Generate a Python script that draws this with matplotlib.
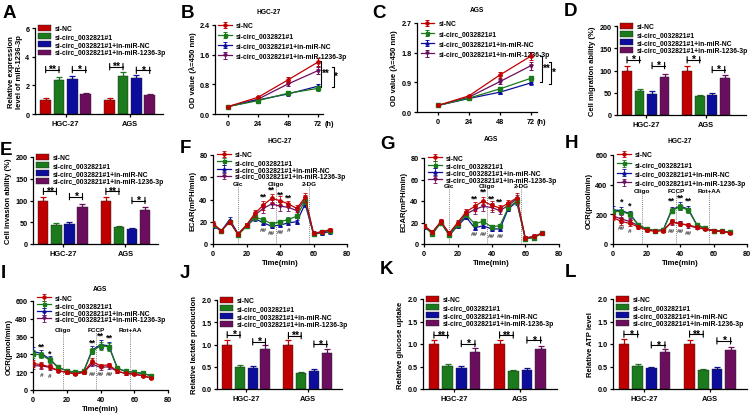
import numpy as np
import matplotlib
matplotlib.use('Agg')
import matplotlib.pyplot as plt

plt.rcParams['font.family'] = ['Liberation Sans', 'DejaVu Sans']
plt.rcParams['font.weight'] = 'bold'
plt.rcParams['axes.labelweight'] = 'bold'
plt.rcParams['axes.titleweight'] = 'bold'

# ---------------- data ----------------
series = ['si-NC', 'si-circ_0032821#1', 'si-circ_0032821#1+in-miR-NC',
          'si-circ_0032821#1+in-miR-1236-3p']
colors = ['#C00000', '#1B7A1B', '#0D0D9C', '#6C0E5E']
markers = ['o', 's', '^', 'v']
cell_lines = ['HGC-27', 'AGS']

# bar panels: [group][series]
A_mean = [[1.00, 2.35, 2.45, 1.38], [1.00, 2.65, 2.50, 1.30]]
A_err = [[0.10, 0.22, 0.20, 0.10], [0.12, 0.28, 0.25, 0.10]]
A_sig = [[('**', 3.1), ('*', 3.1)], [('**', 3.3), ('*', 3.05)]]

D_mean = [[100, 53, 48, 86], [100, 42, 46, 84]]
D_err = [[10, 5, 5, 7], [10, 3, 3, 7]]
D_sig = [[('*', 124), ('*', 111)], [('*', 124), ('*', 102)]]

E_mean = [[100, 44, 47, 85], [100, 38, 35, 78]]
E_err = [[9, 4, 4, 7], [8, 3, 2, 7]]
E_sig = [[('**', 121), ('*', 109)], [('**', 121), ('*', 100)]]

J_mean = [[1.00, 0.50, 0.47, 0.90], [1.00, 0.37, 0.41, 0.82]]
J_err = [[0.10, 0.05, 0.04, 0.08], [0.10, 0.02, 0.03, 0.07]]
J_sig = [[('*', 1.22), ('*', 1.06)], [('**', 1.20), ('*', 1.01)]]

K_mean = [[1.00, 0.51, 0.47, 0.83], [1.00, 0.40, 0.43, 0.88]]
K_err = [[0.10, 0.04, 0.04, 0.08], [0.09, 0.03, 0.04, 0.07]]
K_sig = [[('**', 1.20), ('*', 1.01)], [('**', 1.20), ('*', 1.09)]]

L_mean = [[1.00, 0.51, 0.47, 0.82], [1.00, 0.42, 0.45, 0.87]]
L_err = [[0.12, 0.05, 0.03, 0.08], [0.10, 0.03, 0.03, 0.07]]
L_sig = [[('*', 1.22), ('*', 0.98)], [('**', 1.22), ('*', 1.07)]]

# OD curves
od_time = [0, 24, 48, 72]
B_mean = [[0.20, 0.45, 0.92, 1.40], [0.20, 0.36, 0.56, 0.69],
          [0.20, 0.38, 0.54, 0.75], [0.20, 0.40, 0.81, 1.17]]
B_err = [[0.02, 0.03, 0.08, 0.10], [0.02, 0.03, 0.05, 0.06],
         [0.02, 0.03, 0.04, 0.05], [0.02, 0.03, 0.06, 0.10]]
B_br = [('**', 74.5, 1.44, 0.72), ('*', 84.5, 1.27, 0.72)]

C_mean = [[0.20, 0.49, 1.12, 1.69], [0.20, 0.42, 0.70, 1.02],
          [0.20, 0.41, 0.60, 0.88], [0.20, 0.45, 0.92, 1.40]]
C_err = [[0.02, 0.03, 0.10, 0.12], [0.02, 0.03, 0.05, 0.08],
         [0.02, 0.03, 0.04, 0.04], [0.02, 0.03, 0.07, 0.12]]
C_br = [('**', 81, 1.69, 0.90), ('*', 88, 1.52, 0.85)]

# Seahorse curves
tm = [0, 5, 10, 15, 20, 25, 30, 35, 40, 45, 50, 55, 60, 65, 70]
F_y = [[18.5, 12, 20, 9, 17, 27.5, 35, 41, 39, 36, 32, 42, 9.5, 11, 13],
       [17, 12, 20, 8, 16, 24, 22, 18, 20, 22, 25, 39, 9, 11, 12],
       [16, 12, 22, 9, 16, 23, 19, 16, 17, 19, 20, 36, 9, 10, 11],
       [17, 12, 20, 9, 17, 26, 32, 36, 34, 33, 30, 40, 9.5, 11, 12]]
F_e = [[2, 1.5, 2, 1.5, 2, 3, 4, 4, 4, 3, 3, 4, 1.5, 1.5, 1.5],
       [2, 1.5, 2, 1.5, 2, 2, 2, 2, 2, 2, 2, 3, 1.5, 1.5, 1.5],
       [2, 1.5, 2, 1.5, 2, 2, 2, 2, 2, 2, 2, 3, 1.5, 1.5, 1.5],
       [2, 1.5, 2, 1.5, 2, 3, 4, 4, 4, 3, 3, 4, 1.5, 1.5, 1.5]]
F_up = [(30, 43, '**'), (35, 49, '**'), (40, 45, '**'), (45, 42, '**')]
F_dn = [(30, 13, '##'), (35, 10, '##'), (40, 11, '##'), (45, 13, '#')]

G_y = [[17, 11, 21, 10, 20, 30, 35, 40, 36, 33.5, 38, 43, 5.5, 7, 10],
       [17, 9, 20, 8, 18, 27, 19, 21, 16, 17, 34, 40, 5, 6, 10],
       [16, 10, 20, 8, 17, 25, 15, 17, 14, 14, 33, 39, 5, 6, 10],
       [17, 11, 20, 10, 19, 28, 32, 35, 34, 31, 36, 42, 5.5, 7, 10]]
G_e = [[2, 1.5, 2, 1.5, 2, 3, 4, 4, 4, 3, 3, 4, 1.5, 1.5, 1.5],
       [2, 1.5, 2, 1.5, 2, 2, 2, 2, 2, 2, 2, 3, 1.5, 1.5, 1.5],
       [2, 1.5, 2, 1.5, 2, 2, 2, 2, 2, 2, 2, 3, 1.5, 1.5, 1.5],
       [2, 1.5, 2, 1.5, 2, 3, 4, 4, 4, 3, 3, 4, 1.5, 1.5, 1.5]]
G_up = [(30, 43, '**'), (35, 49, '**'), (40, 43, '**'), (45, 40, '**')]
G_dn = [(30, 10, '##'), (35, 10, '##'), (40, 8, '##'), (45, 8, '##')]

H_y = [[179, 152, 139, 116, 94, 85, 90, 152, 134, 130, 112, 101, 90, 85, 74],
       [219, 219, 201, 130, 101, 90, 94, 224, 251, 228, 130, 105, 90, 85, 78],
       [230, 225, 205, 130, 100, 90, 95, 230, 255, 235, 130, 105, 90, 85, 80],
       [190, 168, 152, 125, 100, 90, 92, 145, 140, 123, 110, 100, 90, 85, 78]]
H_e = [[20, 25, 20, 12, 10, 8, 8, 15, 12, 12, 10, 8, 8, 8, 8],
       [20, 20, 18, 12, 10, 8, 8, 18, 20, 18, 10, 8, 8, 8, 8],
       [25, 25, 18, 12, 10, 8, 8, 20, 25, 20, 10, 8, 8, 8, 8],
       [20, 25, 20, 12, 10, 8, 8, 15, 12, 12, 10, 8, 8, 8, 8]]
H_up = [(5, 287, '*'), (10, 265, '*'), (35, 295, '**'), (40, 315, '**'), (45, 298, '**')]
H_dn = [(5, 112, '##'), (10, 88, '#'), (35, 92, '##'), (40, 92, '##'), (45, 78, '##')]

I_y = [[179, 170, 157, 130, 119, 107, 119, 193, 163, 170, 125, 112, 107, 96, 81],
       [242, 237, 201, 152, 130, 119, 125, 260, 298, 291, 148, 125, 119, 112, 96],
       [260, 246, 208, 152, 130, 119, 125, 269, 305, 298, 146, 125, 119, 112, 96],
       [163, 163, 152, 130, 119, 112, 119, 175, 152, 157, 125, 112, 107, 96, 81]]
I_e = [[25, 20, 15, 12, 10, 8, 8, 20, 15, 15, 10, 8, 8, 8, 8],
       [25, 20, 20, 12, 10, 8, 8, 20, 25, 25, 10, 8, 8, 8, 8],
       [30, 25, 20, 12, 10, 8, 8, 25, 30, 25, 10, 8, 8, 8, 8],
       [20, 20, 15, 12, 10, 8, 8, 15, 15, 15, 10, 8, 8, 8, 8]]
I_up = [(5, 295, '**'), (10, 252, '*'), (35, 320, '**'), (40, 370, '**'), (45, 354, '**')]
I_dn = [(5, 105, '#'), (10, 100, '#'), (35, 108, '##'), (40, 108, '##'), (45, 110, '##')]

# ---------------- figure ----------------
W, H = 753, 414
fig = plt.figure(figsize=(W / 100, H / 100), dpi=100)
TICK = 5.2
LEG = 4.9
LAB = 5.5


def add_ax(l, t, r, b):
    ax = fig.add_axes([l / W, 1 - b / H, (r - l) / W, (b - t) / H])
    for s in ('top', 'right'):
        ax.spines[s].set_visible(False)
    for s in ('left', 'bottom'):
        ax.spines[s].set_linewidth(0.9)
    ax.tick_params(labelsize=TICK, length=2.5, width=0.9, pad=1.5)
    return ax


def bold_ticks(ax):
    for lab in ax.get_xticklabels() + ax.get_yticklabels():
        lab.set_fontweight('bold')


def bar_panel(ax, means, errs, sigs, ylim, yticks, ylabel, xmax=9.0):
    offs = [0.0, 4.8]
    for g in range(2):
        for s in range(4):
            x = offs[g] + s
            ax.bar(x, means[g][s], width=0.78, color=colors[s], edgecolor='#222222',
                   linewidth=0.3, label=series[s] if g == 0 else None, zorder=2)
            ax.errorbar(x, means[g][s], yerr=[[0], [errs[g][s]]], color=colors[s],
                        capsize=2.2, elinewidth=0.9, capthick=0.9, zorder=1)
        for k, (txt, yv) in enumerate(sigs[g]):
            x1, x2 = offs[g] + 2 * k, offs[g] + 2 * k + 1
            ax.plot([x1, x2], [yv, yv], color='k', lw=0.8)
            for xx in (x1, x2):
                for d in (2.3, -2.3):
                    ax.annotate('', xy=(xx, yv), xytext=(0, d), textcoords='offset points',
                                arrowprops=dict(arrowstyle='-', lw=0.8, color='k',
                                                shrinkA=0, shrinkB=0))
            ax.annotate(txt, ((x1 + x2) / 2, yv), xytext=(0, -3.2), textcoords='offset points',
                        ha='center', va='bottom', fontsize=7.5, fontweight='bold')
    ax.set_xlim(-0.8, xmax)
    ax.set_ylim(*ylim)
    ax.set_yticks(yticks)
    ax.set_xticks([offs[0] + 1.5, offs[1] + 1.5])
    ax.set_xticklabels(cell_lines, fontsize=TICK + 0.2)
    ax.set_ylabel(ylabel, fontsize=LAB, labelpad=2)
    ax.legend(loc='upper left', bbox_to_anchor=(0.02, 1.03), frameon=False, fontsize=LEG,
              handlelength=2.0, handleheight=0.8, handletextpad=0.5, labelspacing=0.15,
              borderaxespad=0, borderpad=0)
    bold_ticks(ax)


def od_panel(ax, means, errs, brs, ylim, yticks, ylabels, title, xlim):
    for i in range(4):
        ax.errorbar(od_time, means[i], yerr=errs[i], color=colors[i], marker=markers[i],
                    ms=2.4, lw=0.9, elinewidth=0.7, capsize=1.5, capthick=0.7,
                    label=series[i], zorder=5 - i)
    ax.set_xlim(*xlim)
    ax.set_ylim(*ylim)
    ax.set_yticks(yticks)
    ax.set_yticklabels(ylabels)
    ax.set_xticks(od_time)
    ax.annotate('(h)', xy=(od_time[-1], 0), xycoords=('data', 'axes fraction'),
                xytext=(4.5, -4.2), textcoords='offset points', ha='left', va='top',
                fontsize=TICK, fontweight='bold', annotation_clip=False)
    ax.set_ylabel('OD value (\u03bb=450 nm)', fontsize=LAB, labelpad=2)
    ax.set_title(title, fontsize=4.8, pad=9)
    dy = 0.012 * ylim[1]
    for txt, xb, y1, y2 in brs:
        ax.plot([xb - 1.6, xb, xb, xb - 1.6], [y1, y1, y2, y2], color='k', lw=0.8,
                clip_on=False)
        ax.text(xb + 0.6, (y1 + y2) / 2 + dy, txt, ha='left', va='center', fontsize=7,
                fontweight='bold', clip_on=False)
    ax.legend(loc='upper left', bbox_to_anchor=(0.03, 1.03), frameon=False, fontsize=LEG,
              handlelength=2.0, handletextpad=0.6, labelspacing=0.45, borderaxespad=0,
              borderpad=0, markerscale=0.9)
    bold_ticks(ax)


def sh_panel(ax, ys, es, ylim, yticks, ylabel, title, inj, inj_y, line_top, ups, dns, pad,
             lsp=0.05, leg_y=1.04):
    for i in range(4):
        ax.errorbar(tm, ys[i], yerr=es[i], color=colors[i], marker=markers[i],
                    ms=2.4, lw=0.9, elinewidth=0.6, capsize=1.2, capthick=0.6,
                    label=series[i], zorder=5 - i)
    for xv, name in inj:
        ax.plot([xv, xv], [ylim[0], line_top], ls=(0, (1, 1.5)), color='#555555', lw=0.6,
                zorder=0)
        ax.text(xv, inj_y, name, ha='center', va='bottom', fontsize=4.6, fontweight='bold')
    for xv, yv, txt in ups:
        ax.text(xv, yv, txt, ha='center', va='center', fontsize=6.5, fontweight='bold')
    for xv, yv, txt in dns:
        ax.text(xv, yv, txt, ha='center', va='center', fontsize=4.5, fontweight='bold',
                style='italic', color='#333333')
    ax.set_xlim(0, 80)
    ax.set_ylim(*ylim)
    ax.set_yticks(yticks)
    ax.set_xticks([0, 20, 40, 60, 80])
    ax.set_xlabel('Time(min)', fontsize=LAB, labelpad=1.5)
    ax.set_ylabel(ylabel, fontsize=LAB, labelpad=2)
    ax.set_title(title, fontsize=4.8, pad=pad)
    ax.legend(loc='upper left', bbox_to_anchor=(0.03, leg_y), frameon=False, fontsize=LEG,
              handlelength=2.0, handletextpad=0.6, labelspacing=lsp, borderaxespad=0,
              borderpad=0, markerscale=0.9)
    bold_ticks(ax)


# A
axA = add_ax(35, 29, 163, 115)
bar_panel(axA, A_mean, A_err, A_sig, (0, 6), [0, 2, 4, 6],
          'Relative expression\nlevel of miR-1236-3p', xmax=8.8)
# B
axB = add_ax(215, 26, 323, 115)
od_panel(axB, B_mean, B_err, B_br, (0, 2.4), [0.0, 0.8, 1.6, 2.4],
         ['0.0', '0.8', '1.6', '2.4'], 'HGC-27', (-10.4, 76))
# C
axC = add_ax(417, 24, 537, 113)
od_panel(axC, C_mean, C_err, C_br, (0, 2.7), [0.0, 0.9, 1.8, 2.7],
         ['0.0', '0.9', '1.8', '2.7'], 'AGS', (-16.4, 77))
# D
axD = add_ax(617, 27, 746, 116)
bar_panel(axD, D_mean, D_err, D_sig, (0, 200), [0, 50, 100, 150, 200],
          'Cell migration ability (%)', xmax=9.5)
# E
axE = add_ax(33, 158, 158, 245)
bar_panel(axE, E_mean, E_err, E_sig, (0, 200), [0, 50, 100, 150, 200],
          'Cell invasion ability (%)', xmax=8.8)
# F
axF = add_ax(213, 156, 347, 245)
sh_panel(axF, F_y, F_e, (0, 80), [0, 20, 40, 60, 80], 'ECAR(mPH/min)', 'HGC-27',
         [(15, 'Glc'), (37.5, 'Oligo'), (57.5, '2-DG')], 52, 52, F_up, F_dn, 9)
# G
axG = add_ax(424, 159, 559, 245)
sh_panel(axG, G_y, G_e, (0, 80), [0, 20, 40, 60, 80], 'ECAR(mPH/min)', 'AGS',
         [(15, 'Glc'), (37.5, 'Oligo'), (57.5, '2-DG')], 52, 52, G_up, G_dn, 13)
# H
axH = add_ax(613, 156, 747, 245)
sh_panel(axH, H_y, H_e, (0, 600), [0, 200, 400, 600], 'OCR(pmol/min)', 'HGC-27',
         [(17.5, 'Oligo'), (37.5, 'FCCP'), (57.5, 'Rot+AA')], 345, 345, H_up, H_dn, 9,
         lsp=0.35)
# I
axI = add_ax(33, 302, 168, 391)
sh_panel(axI, I_y, I_e, (0, 600), [0, 120, 240, 360, 480, 600], 'OCR(pmol/min)', 'AGS',
         [(17.5, 'Oligo'), (37.5, 'FCCP'), (57.5, 'Rot+AA')], 392, 392, I_up, I_dn, 8,
         lsp=0.0, leg_y=1.07)
# J
axJ = add_ax(217, 301, 342, 390)
bar_panel(axJ, J_mean, J_err, J_sig, (0, 2.0), [0.0, 0.5, 1.0, 1.5, 2.0],
          'Relative lactate production')
# K
axK = add_ax(423, 300, 557, 390)
bar_panel(axK, K_mean, K_err, K_sig, (0, 2.0), [0.0, 0.5, 1.0, 1.5, 2.0],
          'Relative glucose uptake')
# L
axL = add_ax(613, 300, 747, 390)
bar_panel(axL, L_mean, L_err, L_sig, (0, 2.0), [0.0, 0.5, 1.0, 1.5, 2.0],
          'Relative ATP level')
for ax in (axJ, axK, axL):
    ax.set_yticks([0.0, 0.5, 1.0, 1.5, 2.0])
    ax.set_yticklabels(['0.0', '0.5', '1.0', '1.5', '2.0'])
    bold_ticks(ax)

# panel letters
letters = [('A', 3, 5), ('B', 181, 5), ('C', 372, 5), ('D', 564, 3),
           ('E', 0, 142), ('F', 180, 140), ('G', 380, 136), ('H', 565, 135),
           ('I', 1, 265), ('J', 180, 265), ('K', 380, 261), ('L', 565, 264)]
for t, x, y in letters:
    fig.text(x / W, 1 - y / H, t, fontsize=13.5, fontweight='bold', va='top', ha='left')

fig.savefig('out.png', dpi=100)
